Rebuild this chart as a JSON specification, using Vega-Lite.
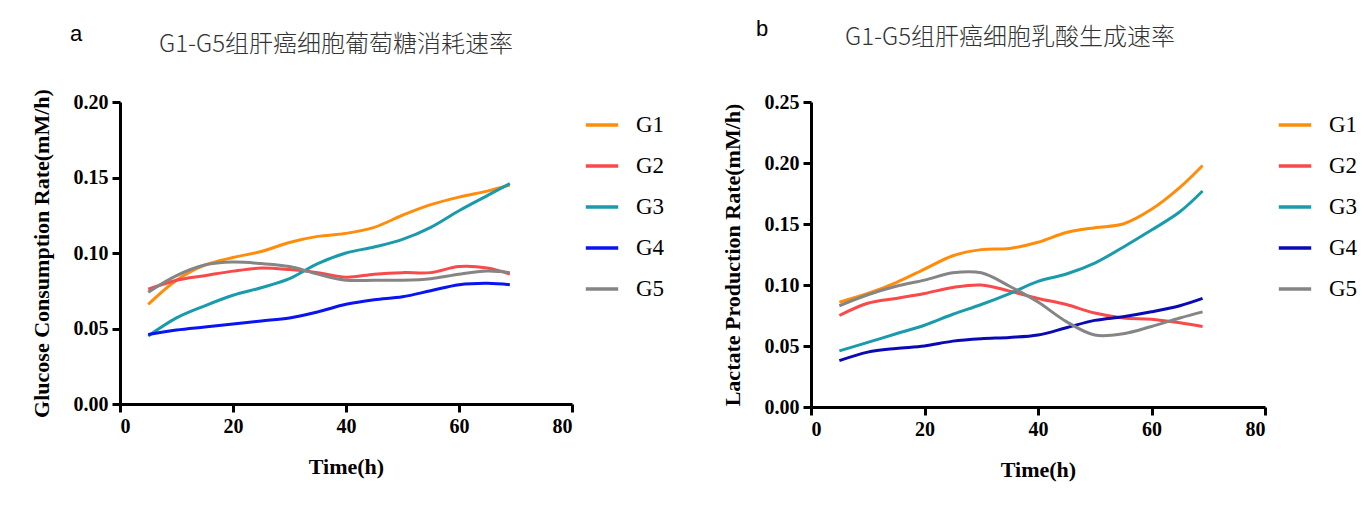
{
  "$schema": "https://vega.github.io/schema/vega-lite/v6.json",
  "background": "white",
  "padding": {"left": 29, "top": 18, "right": 5, "bottom": 5},
  "spacing": 51,
  "datasets": {
    "glucose": [
      {"t": 5, "group": "G1", "rate": 0.066}, {"t": 10, "group": "G1", "rate": 0.082}, {"t": 15, "group": "G1", "rate": 0.092}, {"t": 20, "group": "G1", "rate": 0.097}, {"t": 25, "group": "G1", "rate": 0.101}, {"t": 30, "group": "G1", "rate": 0.107}, {"t": 35, "group": "G1", "rate": 0.111}, {"t": 40, "group": "G1", "rate": 0.113}, {"t": 45, "group": "G1", "rate": 0.117}, {"t": 50, "group": "G1", "rate": 0.125}, {"t": 55, "group": "G1", "rate": 0.132}, {"t": 60, "group": "G1", "rate": 0.137}, {"t": 65, "group": "G1", "rate": 0.141}, {"t": 69, "group": "G1", "rate": 0.145},
      {"t": 5, "group": "G2", "rate": 0.076}, {"t": 10, "group": "G2", "rate": 0.082}, {"t": 15, "group": "G2", "rate": 0.085}, {"t": 20, "group": "G2", "rate": 0.088}, {"t": 25, "group": "G2", "rate": 0.090}, {"t": 30, "group": "G2", "rate": 0.089}, {"t": 35, "group": "G2", "rate": 0.087}, {"t": 40, "group": "G2", "rate": 0.084}, {"t": 45, "group": "G2", "rate": 0.086}, {"t": 50, "group": "G2", "rate": 0.087}, {"t": 55, "group": "G2", "rate": 0.087}, {"t": 60, "group": "G2", "rate": 0.091}, {"t": 65, "group": "G2", "rate": 0.090}, {"t": 69, "group": "G2", "rate": 0.086},
      {"t": 5, "group": "G3", "rate": 0.045}, {"t": 10, "group": "G3", "rate": 0.057}, {"t": 15, "group": "G3", "rate": 0.065}, {"t": 20, "group": "G3", "rate": 0.072}, {"t": 25, "group": "G3", "rate": 0.077}, {"t": 30, "group": "G3", "rate": 0.083}, {"t": 35, "group": "G3", "rate": 0.093}, {"t": 40, "group": "G3", "rate": 0.100}, {"t": 45, "group": "G3", "rate": 0.104}, {"t": 50, "group": "G3", "rate": 0.109}, {"t": 55, "group": "G3", "rate": 0.117}, {"t": 60, "group": "G3", "rate": 0.128}, {"t": 65, "group": "G3", "rate": 0.138}, {"t": 69, "group": "G3", "rate": 0.146},
      {"t": 5, "group": "G4", "rate": 0.046}, {"t": 10, "group": "G4", "rate": 0.049}, {"t": 15, "group": "G4", "rate": 0.051}, {"t": 20, "group": "G4", "rate": 0.053}, {"t": 25, "group": "G4", "rate": 0.055}, {"t": 30, "group": "G4", "rate": 0.057}, {"t": 35, "group": "G4", "rate": 0.061}, {"t": 40, "group": "G4", "rate": 0.066}, {"t": 45, "group": "G4", "rate": 0.069}, {"t": 50, "group": "G4", "rate": 0.071}, {"t": 55, "group": "G4", "rate": 0.075}, {"t": 60, "group": "G4", "rate": 0.079}, {"t": 65, "group": "G4", "rate": 0.080}, {"t": 69, "group": "G4", "rate": 0.079},
      {"t": 5, "group": "G5", "rate": 0.074}, {"t": 10, "group": "G5", "rate": 0.085}, {"t": 15, "group": "G5", "rate": 0.092}, {"t": 20, "group": "G5", "rate": 0.094}, {"t": 25, "group": "G5", "rate": 0.093}, {"t": 30, "group": "G5", "rate": 0.091}, {"t": 35, "group": "G5", "rate": 0.086}, {"t": 40, "group": "G5", "rate": 0.082}, {"t": 45, "group": "G5", "rate": 0.082}, {"t": 50, "group": "G5", "rate": 0.082}, {"t": 55, "group": "G5", "rate": 0.083}, {"t": 60, "group": "G5", "rate": 0.086}, {"t": 65, "group": "G5", "rate": 0.088}, {"t": 69, "group": "G5", "rate": 0.087}
    ],
    "lactate": [
      {"t": 5, "group": "G1", "rate": 0.086}, {"t": 10, "group": "G1", "rate": 0.093}, {"t": 15, "group": "G1", "rate": 0.102}, {"t": 20, "group": "G1", "rate": 0.113}, {"t": 25, "group": "G1", "rate": 0.124}, {"t": 30, "group": "G1", "rate": 0.129}, {"t": 35, "group": "G1", "rate": 0.130}, {"t": 40, "group": "G1", "rate": 0.135}, {"t": 45, "group": "G1", "rate": 0.143}, {"t": 50, "group": "G1", "rate": 0.147}, {"t": 55, "group": "G1", "rate": 0.150}, {"t": 60, "group": "G1", "rate": 0.162}, {"t": 65, "group": "G1", "rate": 0.180}, {"t": 69, "group": "G1", "rate": 0.198},
      {"t": 5, "group": "G2", "rate": 0.075}, {"t": 10, "group": "G2", "rate": 0.085}, {"t": 15, "group": "G2", "rate": 0.089}, {"t": 20, "group": "G2", "rate": 0.093}, {"t": 25, "group": "G2", "rate": 0.098}, {"t": 30, "group": "G2", "rate": 0.100}, {"t": 35, "group": "G2", "rate": 0.095}, {"t": 40, "group": "G2", "rate": 0.089}, {"t": 45, "group": "G2", "rate": 0.084}, {"t": 50, "group": "G2", "rate": 0.077}, {"t": 55, "group": "G2", "rate": 0.073}, {"t": 60, "group": "G2", "rate": 0.072}, {"t": 65, "group": "G2", "rate": 0.069}, {"t": 69, "group": "G2", "rate": 0.066},
      {"t": 5, "group": "G3", "rate": 0.046}, {"t": 10, "group": "G3", "rate": 0.053}, {"t": 15, "group": "G3", "rate": 0.060}, {"t": 20, "group": "G3", "rate": 0.067}, {"t": 25, "group": "G3", "rate": 0.076}, {"t": 30, "group": "G3", "rate": 0.084}, {"t": 35, "group": "G3", "rate": 0.093}, {"t": 40, "group": "G3", "rate": 0.103}, {"t": 45, "group": "G3", "rate": 0.109}, {"t": 50, "group": "G3", "rate": 0.118}, {"t": 55, "group": "G3", "rate": 0.131}, {"t": 60, "group": "G3", "rate": 0.145}, {"t": 65, "group": "G3", "rate": 0.160}, {"t": 69, "group": "G3", "rate": 0.177},
      {"t": 5, "group": "G4", "rate": 0.038}, {"t": 10, "group": "G4", "rate": 0.045}, {"t": 15, "group": "G4", "rate": 0.048}, {"t": 20, "group": "G4", "rate": 0.050}, {"t": 25, "group": "G4", "rate": 0.054}, {"t": 30, "group": "G4", "rate": 0.056}, {"t": 35, "group": "G4", "rate": 0.057}, {"t": 40, "group": "G4", "rate": 0.059}, {"t": 45, "group": "G4", "rate": 0.065}, {"t": 50, "group": "G4", "rate": 0.071}, {"t": 55, "group": "G4", "rate": 0.074}, {"t": 60, "group": "G4", "rate": 0.078}, {"t": 65, "group": "G4", "rate": 0.083}, {"t": 69, "group": "G4", "rate": 0.089},
      {"t": 5, "group": "G5", "rate": 0.083}, {"t": 10, "group": "G5", "rate": 0.092}, {"t": 15, "group": "G5", "rate": 0.099}, {"t": 20, "group": "G5", "rate": 0.104}, {"t": 25, "group": "G5", "rate": 0.110}, {"t": 30, "group": "G5", "rate": 0.110}, {"t": 35, "group": "G5", "rate": 0.099}, {"t": 40, "group": "G5", "rate": 0.086}, {"t": 45, "group": "G5", "rate": 0.070}, {"t": 50, "group": "G5", "rate": 0.059}, {"t": 55, "group": "G5", "rate": 0.060}, {"t": 60, "group": "G5", "rate": 0.066}, {"t": 65, "group": "G5", "rate": 0.073}, {"t": 69, "group": "G5", "rate": 0.078}
    ]
  },
  "config": {
    "view": {"stroke": null},
    "axis": {
      "grid": false,
      "domainColor": "black", "domainWidth": 3,
      "tickColor": "black", "tickWidth": 3, "tickSize": 8,
      "labelFont": "Liberation Serif", "labelFontWeight": "bold", "labelFontSize": 20, "labelColor": "black", "labelPadding": 4,
      "titleFont": "Liberation Serif", "titleFontWeight": "bold", "titleFontSize": 22, "titleColor": "black"
    },
    "legend": {
      "title": null,
      "symbolType": "stroke", "symbolStrokeWidth": 3.5, "symbolSize": 1050,
      "labelFont": "Liberation Serif", "labelFontSize": 23, "labelColor": "black", "labelOffset": 16,
      "rowPadding": 11, "offset": 5, "padding": 5
    },
    "title": {"font": "Noto Sans CJK SC", "fontWeight": 300, "fontSize": 24, "color": "#333333"}
  },
  "resolve": {"scale": {"color": "independent"}, "legend": {"color": "independent"}},
  "hconcat": [
    {
      "title": {"text": "a", "anchor": "start", "font": "Liberation Sans", "fontSize": 22, "color": "black", "dx": 40, "dy": 17},
      "hconcat": [
        {
          "data": {"name": "glucose"},
          "width": 452, "height": 302,
          "title": {"text": "G1-G5组肝癌细胞葡萄糖消耗速率", "offset": 32, "dx": -10},
          "mark": {"type": "line", "interpolate": "catmull-rom", "strokeWidth": 3},
          "encoding": {
            "x": {"field": "t", "type": "quantitative", "title": "Time(h)", "scale": {"domain": [0, 80], "nice": false, "zero": false}, "axis": {"values": [0, 20, 40, 60, 80], "titlePadding": 20}},
            "y": {"field": "rate", "type": "quantitative", "title": "Glucose Consumption Rate(mM/h)", "scale": {"domain": [0, 0.2], "nice": false}, "axis": {"values": [0, 0.05, 0.1, 0.15, 0.2], "format": ".2f", "titlePadding": 20}},
            "color": {"field": "group", "type": "nominal", "scale": {"domain": ["G1", "G2", "G3", "G4", "G5"], "range": ["#FF8C0A", "#F84A4A", "#1A9BAB", "#0A14F0", "#858585"]}}
          }
        }
      ]
    },
    {
      "title": {"text": "b", "anchor": "start", "font": "Liberation Sans", "fontSize": 22, "color": "black", "dx": 35, "dy": 19},
      "hconcat": [
        {
          "data": {"name": "lactate"},
          "width": 454, "height": 305,
          "title": {"text": "G1-G5组肝癌细胞乳酸生成速率", "offset": 42, "dx": -28},
          "mark": {"type": "line", "interpolate": "catmull-rom", "strokeWidth": 3},
          "encoding": {
            "x": {"field": "t", "type": "quantitative", "title": "Time(h)", "scale": {"domain": [0, 80], "nice": false, "zero": false}, "axis": {"values": [0, 20, 40, 60, 80], "titlePadding": 20}},
            "y": {"field": "rate", "type": "quantitative", "title": "Lactate Production Rate(mM/h)", "scale": {"domain": [0, 0.25], "nice": false}, "axis": {"values": [0, 0.05, 0.1, 0.15, 0.2, 0.25], "format": ".2f", "titlePadding": 20}},
            "color": {"field": "group", "type": "nominal", "scale": {"domain": ["G1", "G2", "G3", "G4", "G5"], "range": ["#FF8C0A", "#F84A4A", "#1A9BAB", "#0A0AB4", "#858585"]}}
          }
        }
      ]
    }
  ]
}
